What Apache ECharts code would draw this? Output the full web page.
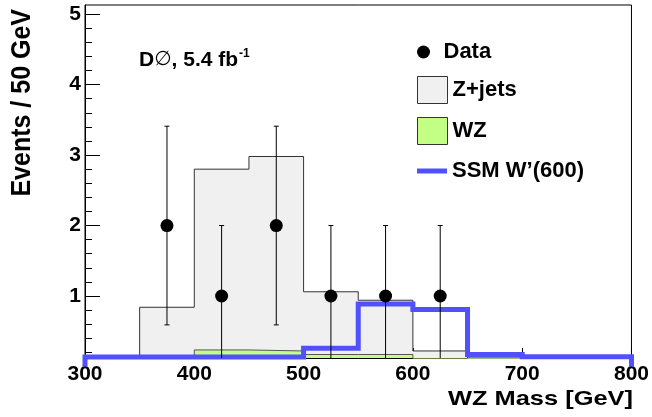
<!DOCTYPE html>
<html><head><meta charset="utf-8">
<script src="https://cdn.jsdelivr.net/npm/echarts@6/dist/echarts.min.js"></script>
<style>html,body{margin:0;padding:0;background:#fff}#c{width:652px;height:417px}</style>
</head><body><div id="c"></div>
<script>
// ---- data ----
const binEdges = [300, 350, 400, 450, 500, 550, 600, 650, 700, 750, 800];
const zjets    = [0, 0.84, 2.80, 2.98, 1.06, 0.94, 0.22, 0, 0, 0];
const wz       = [0, 0, 0.234, 0.22, 0.17, 0.17, 0, 0, 0, 0];
const ssm      = [0.135, 0.135, 0.135, 0.135, 0.26, 0.885, 0.81, 0.17, 0.138, 0.138];
const dataX    = [375, 425, 475, 525, 575, 625];
const dataY    = [2, 1, 2, 1, 1, 1];
const dataErr  = [1.41, 1, 1.41, 1, 1, 1];
const xTicks   = [300, 400, 500, 600, 700, 800];
const yMajor   = [1, 2, 3, 4, 5];
const yMinor   = [0.2, 0.4, 0.6, 0.8, 1.2, 1.4, 1.6, 1.8, 2.2, 2.4, 2.6, 2.8,
                  3.2, 3.4, 3.6, 3.8, 4.2, 4.4, 4.6, 4.8, 5.0];
const Y_MIN = 0.12, Y_MAX = 5.13;

function stepPoints(vals) {
  const pts = [[binEdges[0], 0]];
  for (let i = 0; i < vals.length; i++) {
    pts.push([binEdges[i], vals[i]], [binEdges[i + 1], vals[i]]);
  }
  pts.push([binEdges[binEdges.length - 1], 0]);
  return pts;
}

const FONT = '"Liberation Sans", Arial, Helvetica, sans-serif';
const chart = echarts.init(document.getElementById('c'));
const baseText = { fontFamily: FONT, fontWeight: 'bold', color: '#000' };

chart.setOption({
  animation: false,
  backgroundColor: '#fff',
  grid: { left: 85, right: 20, top: 5, bottom: 59, show: true, borderColor: '#000', borderWidth: 1, backgroundColor: 'transparent' },
  title: {
    text: 'D{o|∅}, 5.4 fb{sup|-1}',
    left: 139, top: 48, padding: 0,
    textStyle: Object.assign({}, baseText, {
      fontSize: 21, lineHeight: 24,
      rich: {
        o: { fontFamily: '"DejaVu Sans", sans-serif', fontWeight: 'normal', fontSize: 20, lineHeight: 24 },
        sup: { fontFamily: FONT, fontWeight: 'bold', fontSize: 12, lineHeight: 24, verticalAlign: 'top', padding: [0, 0, 12, 1] }
      }
    })
  },
  xAxis: {
    type: 'value', min: 300, max: 800, interval: 100,
    axisLine: { show: true, onZero: false, lineStyle: { color: '#000', width: 1 } },
    axisTick: { show: true, inside: true, length: 10, lineStyle: { color: '#000' }, customValues: xTicks },
    axisLabel: Object.assign({}, baseText, { fontSize: 21, margin: 6, customValues: xTicks }),
    splitLine: { show: false }
  },
  yAxis: [{
    type: 'value', min: Y_MIN, max: Y_MAX,
    axisLine: { show: true, onZero: false, lineStyle: { color: '#000', width: 1 } },
    axisTick: { show: true, inside: true, length: 15, lineStyle: { color: '#000' }, customValues: yMajor },
    axisLabel: Object.assign({}, baseText, { fontSize: 21, margin: 4, customValues: yMajor }),
    splitLine: { show: false }
  }, {
    type: 'value', min: Y_MIN, max: Y_MAX, position: 'left',
    axisLine: { show: false },
    axisTick: { show: true, inside: true, length: 7, lineStyle: { color: '#000' }, customValues: yMinor },
    axisLabel: { show: false },
    splitLine: { show: false }
  }],
  legend: [{
    data: [{ name: 'Data', icon: 'circle', itemStyle: { color: '#000', borderWidth: 0 } }],
    selectedMode: false, padding: 0, symbolKeepAspect: true,
    left: 417, top: 41, itemWidth: 30, itemHeight: 13, itemGap: 0,
    textStyle: Object.assign({}, baseText, { fontSize: 22 })
  }, {
    data: [
      { name: 'Z+jets', icon: 'rect', itemStyle: { color: '#f0f0f0', borderColor: '#333', borderWidth: 1 } },
      { name: 'WZ', icon: 'rect', itemStyle: { color: '#c2ff84', borderColor: '#333', borderWidth: 1 } }
    ],
    selectedMode: false, orient: 'vertical', padding: 0,
    left: 417, top: 76, itemWidth: 30, itemHeight: 27, itemGap: 13,
    textStyle: Object.assign({}, baseText, { fontSize: 22 })
  }, {
    data: [{ name: 'SSM W’(600)', icon: 'rect', itemStyle: { color: '#5050ff', borderWidth: 0 } }],
    selectedMode: false, padding: 0,
    left: 417, top: 160, itemWidth: 30, itemHeight: 5,
    textStyle: Object.assign({}, baseText, { fontSize: 22 })
  }],
  graphic: [{
    type: 'text', x: 22, y: 9, rotation: Math.PI / 2, scaleX: 1, scaleY: 1.12,
    style: { text: 'Events / 50 GeV', fontFamily: FONT, fontWeight: 'bold', fontSize: 25, fill: '#000', align: 'right', verticalAlign: 'middle' }
  }, {
    type: 'text', x: 633, y: 399, scaleX: 1.24, scaleY: 1,
    style: { text: 'WZ Mass [GeV]', fontFamily: FONT, fontWeight: 'bold', fontSize: 20.5, fill: '#000', align: 'right', verticalAlign: 'middle' }
  }],
  series: [{
    name: 'Z+jets', type: 'line', data: stepPoints(zjets), symbol: 'none', clip: true, z: 2,
    lineStyle: { color: '#333', width: 1 },
    itemStyle: { color: '#f0f0f0' },
    areaStyle: { color: '#f0f0f0', opacity: 1, origin: 'start' }
  }, {
    name: 'WZ', type: 'line', data: stepPoints(wz), symbol: 'none', clip: true, z: 3,
    lineStyle: { color: '#555', width: 1 },
    itemStyle: { color: '#c2ff84' },
    areaStyle: { color: '#c2ff84', opacity: 1, origin: 'start' }
  }, {
    name: 'SSM W’(600)', type: 'line', data: stepPoints(ssm), symbol: 'none', clip: false, z: 4,
    lineStyle: { color: '#5050ff', width: 5, join: 'miter' },
    itemStyle: { color: '#5050ff' }
  }, {
    name: 'Data', type: 'custom', clip: true, z: 5,
    data: dataX.map((x, i) => [x, dataY[i] - dataErr[i], dataY[i] + dataErr[i]]),
    encode: { x: 0, y: [1, 2] },
    itemStyle: { color: '#000' },
    renderItem: function (params, api) {
      const x = api.value(0);
      const lo = api.coord([x, api.value(1)]);
      const hi = api.coord([x, api.value(2)]);
      const cw = 2.5, st = { stroke: '#000', lineWidth: 1 };
      return { type: 'group', children: [
        { type: 'line', shape: { x1: lo[0], y1: lo[1], x2: hi[0], y2: hi[1] }, style: st },
        { type: 'line', shape: { x1: hi[0] - cw, y1: hi[1], x2: hi[0] + cw, y2: hi[1] }, style: st },
        { type: 'line', shape: { x1: lo[0] - cw, y1: lo[1], x2: lo[0] + cw, y2: lo[1] }, style: st }
      ] };
    }
  }, {
    name: 'Data', type: 'scatter', data: dataX.map((x, i) => [x, dataY[i]]),
    symbol: 'circle', symbolSize: 13, z: 6,
    itemStyle: { color: '#000', opacity: 1 }
  }]
});
</script></body></html>
